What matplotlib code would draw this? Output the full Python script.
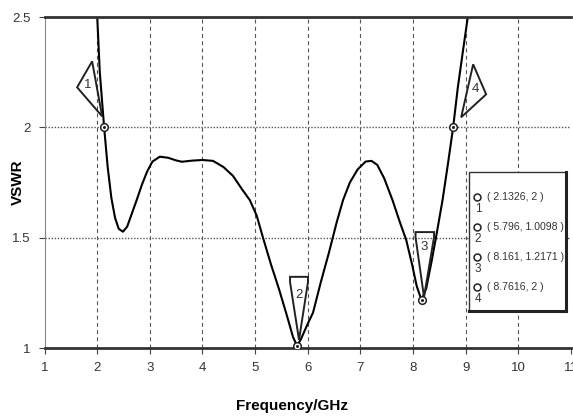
import matplotlib.pyplot as plt
from matplotlib.patches import Polygon, Rectangle
from matplotlib.transforms import ScaledTranslation

# curve (GHz, VSWR)
freq = [1.99, 2.05, 2.1326, 2.2, 2.27, 2.34, 2.41, 2.49, 2.57, 2.66, 2.75, 2.85,
        2.95, 3.05, 3.19, 3.35, 3.5, 3.61, 3.8, 4.0, 4.2, 4.4, 4.58, 4.75, 4.9,
        5.03, 5.15, 5.3, 5.45, 5.6, 5.72, 5.796, 5.87, 6.0, 6.1, 6.25, 6.4, 6.55,
        6.67, 6.8, 6.95, 7.1, 7.21, 7.32, 7.45, 7.61, 7.75, 7.87, 7.98, 8.07,
        8.161, 8.25, 8.35, 8.45, 8.56, 8.66, 8.7616, 8.85, 8.95, 9.04, 9.08]
vswr = [2.56, 2.25, 2.0, 1.82, 1.68, 1.59, 1.54, 1.527, 1.55, 1.61, 1.67, 1.74,
        1.80, 1.845, 1.867, 1.862, 1.85, 1.844, 1.849, 1.852, 1.848, 1.82, 1.78,
        1.72, 1.67, 1.60, 1.50, 1.38, 1.27, 1.15, 1.05, 1.0098, 1.04, 1.11, 1.16,
        1.30, 1.43, 1.57, 1.67, 1.75, 1.81, 1.845, 1.848, 1.83, 1.77, 1.67, 1.57,
        1.49, 1.38, 1.28, 1.2171, 1.27, 1.39, 1.52, 1.67, 1.83, 2.0, 2.18, 2.35,
        2.5, 2.56]

mark_x = [2.1326, 5.796, 8.161, 8.7616]
mark_y = [2, 1.0098, 1.2171, 2]
mark_txt = ["( 2.1326, 2 )", "( 5.796, 1.0098 )", "( 8.161, 1.2171 )", "( 8.7616, 2 )"]

# flag shapes around each marker, pixel offsets from the marker
flags = [
    [(-12, 66), (-27, 40), (-2, 11)],
    [(-7, 69), (11, 69), (11, 64), (2, 6), (-7, 64)],
    [(-6, 68), (12.5, 68), (12.5, 63), (2.5, 3), (-6, 63)],
    [(20, 63), (33, 33), (8, 10)],
]
flag_num = [(-16, 42), (2, 51), (2.5, 53), (22, 38)]

lib = ['Liberation Sans', 'DejaVu Sans']

fig = plt.figure(figsize=(5.73, 4.19), dpi=100)
ax = fig.add_axes([44.5 / 573, 71 / 419, 526.5 / 573, 331 / 419])

ax.plot(freq, vswr, color='black', lw=1.5, clip_on=True)
ax.plot(mark_x, mark_y, 'o', ms=5.5, mfc='white', mec='#222222', mew=1.1, zorder=5)
ax.plot(mark_x, mark_y, 'o', ms=1.2, color='#222222', zorder=6)

ax.set_xlim(1, 11)
ax.set_ylim(1, 2.5)
ax.set_xticks(range(1, 12))
ax.set_yticks([1, 1.5, 2, 2.5])
ax.set_yticklabels(['1', '1.5', '2', '2.5'])
for lab in ax.get_xticklabels() + ax.get_yticklabels():
    lab.set_family(lib)
    lab.set_fontsize(9.5)
    lab.set_color('#333333')
ax.tick_params(axis='both', length=4, width=0.8, color='#444444', pad=6)

for x in range(2, 11):
    ax.axvline(x, color='#555555', lw=0.8, ls=(0, (3.5, 3)), zorder=0)
for y in [1.5, 2]:
    ax.axhline(y, color='#555555', lw=1.0, ls=(0, (1, 1.2)), zorder=0)

ax.spines['top'].set_linewidth(2)
ax.spines['top'].set_color('#333333')
ax.spines['bottom'].set_linewidth(2)
ax.spines['bottom'].set_color('#333333')
ax.spines['left'].set_linewidth(0.8)
ax.spines['left'].set_color('#888888')
ax.spines['right'].set_visible(False)

ax.set_xlabel('Frequency/GHz', fontsize=11, fontweight='bold',
              family='Liberation Sans', labelpad=10)
ax.xaxis.set_label_coords(0.47, -0.155)
ax.set_ylabel('VSWR', fontsize=11, fontweight='bold', family='Liberation Sans')
ax.yaxis.set_label_coords(-0.037, 0.5)

# marker flags
for i in range(4):
    tr = fig.dpi_scale_trans + ScaledTranslation(mark_x[i], mark_y[i], ax.transData)
    pts = [(px / 100, py / 100) for px, py in flags[i]]
    ax.add_patch(Polygon(pts, closed=True, fill=False, ec='#222222', lw=1.4,
                         transform=tr, clip_on=False, zorder=4))
    ax.text(flag_num[i][0] / 100, flag_num[i][1] / 100, str(i + 1), transform=tr,
            ha='center', va='center', fontsize=9.5, family=lib, color='#333333')

# marker table box
bx, by, bw, bh = 469 / 573, 108 / 419, 97 / 573, 139 / 419
fig.patches.append(Rectangle((bx, by), bw, bh, transform=fig.transFigure,
                             fc='white', ec='#333333', lw=1.0, zorder=10))
fig.lines.append(plt.Line2D([bx + bw, bx + bw], [by, by + bh], transform=fig.transFigure,
                            color='#222222', lw=2.2, zorder=11))
fig.lines.append(plt.Line2D([bx, bx + bw], [by, by], transform=fig.transFigure,
                            color='#222222', lw=2.2, zorder=11))
for i in range(4):
    ry = (419 - (197 + 30 * i)) / 419
    fig.lines.append(plt.Line2D([477 / 573], [ry], transform=fig.transFigure, marker='o',
                                ms=5, mfc='white', mec='#222222', mew=1.1, zorder=12))
    fig.text(478 / 573, ry - 12 / 419, str(i + 1), fontsize=8.5, family=lib,
             ha='center', va='center', color='#333333', zorder=12)
    fig.text(487 / 573, ry, mark_txt[i], fontsize=7.6, family=lib,
             ha='left', va='center', color='#333333', zorder=12)

fig.savefig('out.png', dpi=100)
